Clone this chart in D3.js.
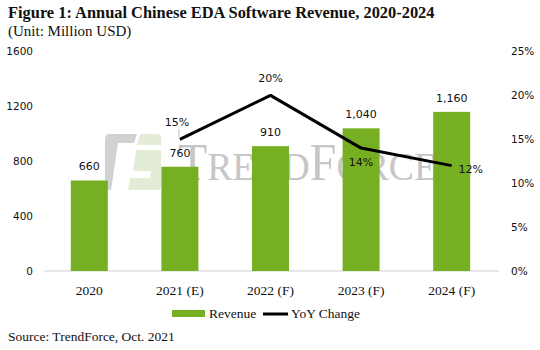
<!DOCTYPE html>
<html><head><meta charset="utf-8">
<script src="https://cdn.jsdelivr.net/npm/d3@7"></script>
<style>body{margin:0;background:#fff}svg{display:block}</style>
</head><body>
<svg id="chart" width="540" height="350"></svg>
<script>
const categories = ["2020", "2021 (E)", "2022 (F)", "2023 (F)", "2024 (F)"];
const revenue = [660, 760, 910, 1040, 1160];
const revenueLabels = ["660", "760", "910", "1,040", "1,160"];
const yoy = [null, 15, 20, 14, 12];
const leftTicks = [0, 400, 800, 1200, 1600];
const rightTicks = [0, 5, 10, 15, 20, 25];

const svg = d3.select("#chart");
const serif = "'Liberation Serif', 'Times New Roman', serif";
const sans = "'DejaVu Sans', Verdana, sans-serif";
const green = "#76B022";

const x = d3.scaleBand().domain(categories).range([44, 497]).paddingInner(0).paddingOuter(0);
const yL = d3.scaleLinear().domain([0, 1600]).range([271, 51.5]);
const yR = d3.scaleLinear().domain([0, 25]).range([271, 51.5]);
const barW = 37;
const cx = c => x(c) + x.bandwidth() / 2;

// Title
svg.append("text").attr("x", 8).attr("y", 18).attr("font-family", serif)
  .attr("font-weight", "bold").attr("font-size", 16.4).attr("fill", "#111")
  .text("Figure 1: Annual Chinese EDA Software Revenue, 2020-2024");
svg.append("text").attr("x", 8).attr("y", 36).attr("font-family", serif)
  .attr("font-size", 15).attr("fill", "#111").text("(Unit: Million USD)");

// Watermark logo
const wm = svg.append("g");
wm.append("path").attr("d", "M109,134 L137,134 L134,143 L118,143 L111,190 L105,190 L105,140 Q105,134 109,134 Z")
  .attr("fill", "#d2d2d2");
wm.append("path").attr("d", "M140,134 L157,134 Q161,134 161,138 L161,145 L137,145 Z").attr("fill", "#e3ecd6");
wm.append("path").attr("d", "M136,150 L161,150 L161,186 Q161,190 157,190 L128,190 L130,178 L150,178 L151,171 L133,171 Z").attr("fill", "#e3ecd6");
const wmt = wm.append("text").attr("x", 178).attr("y", 180).attr("font-family", serif)
  .attr("fill", "#c6c6c6").attr("textLength", 259).attr("lengthAdjust", "spacingAndGlyphs");
wmt.append("tspan").attr("font-size", 52).text("T");
wmt.append("tspan").attr("font-size", 41).text("REND");
wmt.append("tspan").attr("font-size", 52).text("F");
wmt.append("tspan").attr("font-size", 41).text("ORCE");

// Axis line
svg.append("line").attr("x1", 44).attr("x2", 499).attr("y1", 271).attr("y2", 271)
  .attr("stroke", "#d0d0d0").attr("stroke-width", 1);

// Left axis
const axL = svg.append("g").attr("transform", "translate(44,0)")
  .call(d3.axisLeft(yL).tickValues(leftTicks).tickSize(0).tickPadding(11).tickFormat(d3.format("d")));
axL.select(".domain").remove();
axL.selectAll("text").attr("font-family", sans).attr("font-size", 10.5).attr("fill", "#111");

// Right axis
const axR = svg.append("g").attr("transform", "translate(499,0)")
  .call(d3.axisRight(yR).tickValues(rightTicks).tickSize(0).tickPadding(12).tickFormat(d => d + "%"));
axR.select(".domain").remove();
axR.selectAll("text").attr("font-family", sans).attr("font-size", 10.5).attr("fill", "#111");

// Bottom axis labels
const axB = svg.append("g").attr("transform", "translate(0,271)")
  .call(d3.axisBottom(x).tickSize(0).tickPadding(14));
axB.select(".domain").remove();
axB.selectAll("text").attr("font-family", serif).attr("font-size", 13.5).attr("fill", "#111");

// Bars
svg.append("g").selectAll("rect").data(revenue).join("rect")
  .attr("x", (d, i) => cx(categories[i]) - barW / 2)
  .attr("y", d => yL(d)).attr("width", barW).attr("height", d => yL(0) - yL(d))
  .attr("fill", green);

// Bar labels
svg.append("g").selectAll("text").data(revenue).join("text")
  .attr("x", (d, i) => cx(categories[i])).attr("y", d => yL(d) - 10)
  .attr("text-anchor", "middle").attr("font-family", sans).attr("font-size", 11).attr("fill", "#111")
  .text((d, i) => revenueLabels[i]);

// YoY line
const pts = yoy.map((v, i) => ({ v, c: categories[i] })).filter(d => d.v != null);
svg.append("path").datum(pts)
  .attr("d", d3.line().x(d => cx(d.c)).y(d => yR(d.v)))
  .attr("fill", "none").attr("stroke", "#000").attr("stroke-width", 3).attr("stroke-linejoin", "round");

// YoY labels
const offs = [null, [-3, -13], [0, -13], [0, 18], [19, 7]];
svg.append("g").selectAll("text").data(pts).join("text")
  .attr("x", d => cx(d.c) + offs[categories.indexOf(d.c)][0])
  .attr("y", d => yR(d.v) + offs[categories.indexOf(d.c)][1])
  .attr("text-anchor", "middle").attr("font-family", sans).attr("font-size", 11).attr("fill", "#111")
  .text(d => d.v + "%");
// small leader for 15%
svg.append("line").attr("x1", cx(categories[1]) - 1).attr("y1", yR(15) - 10)
  .attr("x2", cx(categories[1]) - 1).attr("y2", yR(15) - 2).attr("stroke", "#aaa").attr("stroke-width", 0.8);

// Legend
svg.append("rect").attr("x", 172).attr("y", 310).attr("width", 33).attr("height", 7).attr("fill", green);
svg.append("text").attr("x", 209).attr("y", 318).attr("font-family", serif).attr("font-size", 13.5)
  .attr("fill", "#111").text("Revenue");
svg.append("line").attr("x1", 263).attr("x2", 288).attr("y1", 314).attr("y2", 314)
  .attr("stroke", "#000").attr("stroke-width", 3);
svg.append("text").attr("x", 291).attr("y", 318).attr("font-family", serif).attr("font-size", 13.5)
  .attr("fill", "#111").text("YoY Change");

// Source
svg.append("text").attr("x", 8).attr("y", 341).attr("font-family", serif).attr("font-size", 13.5)
  .attr("fill", "#111").text("Source: TrendForce, Oct. 2021");
</script>
</body></html>
